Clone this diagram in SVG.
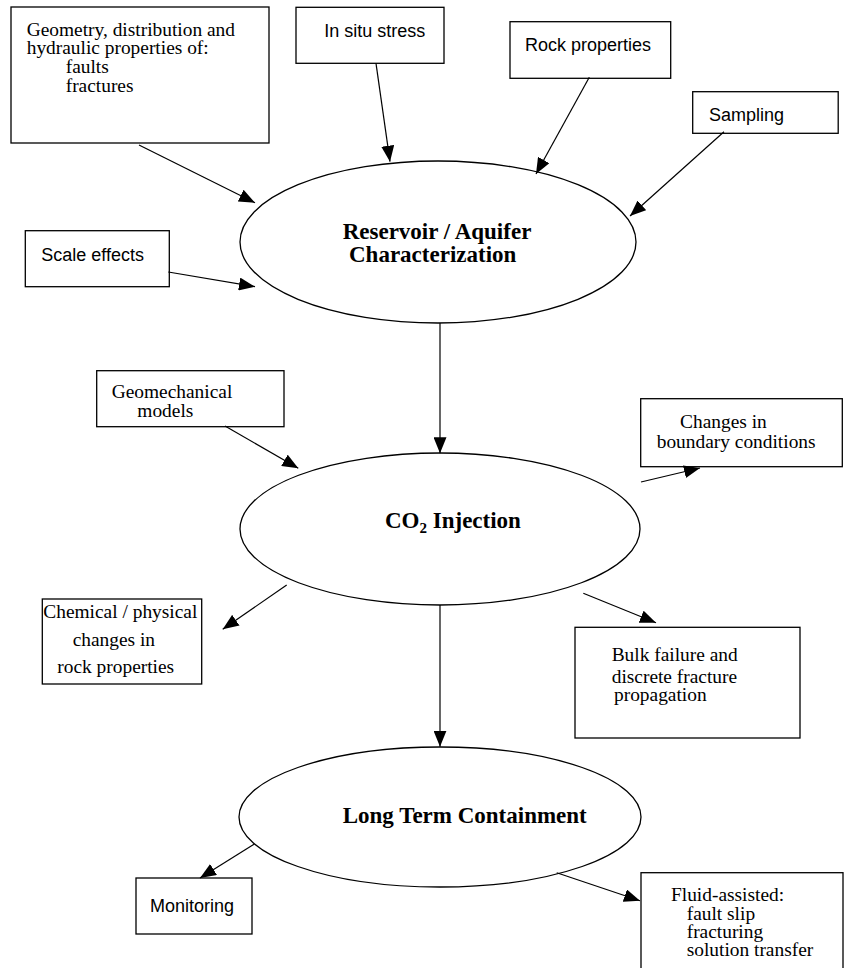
<svg xmlns="http://www.w3.org/2000/svg" width="845" height="968" viewBox="0 0 845 968">
<style>
.box{fill:#fff;stroke:#000;stroke-width:1.3}
.ell{fill:#fff;stroke:#000;stroke-width:1.3}
.sans{font-family:"Liberation Sans",Arial,sans-serif;font-size:18px;fill:#000}
.serif{font-family:"Liberation Serif","Times New Roman",serif;font-size:19.4px;fill:#000}
.title{font-family:"Liberation Serif","Times New Roman",serif;font-size:23px;font-weight:bold;fill:#000}
.conn line{stroke:#000;stroke-width:1.2;marker-end:url(#ah)}
</style>
<defs>
<marker id="ah" markerUnits="userSpaceOnUse" markerWidth="16" markerHeight="13" refX="16" refY="6.5" orient="auto">
<path d="M0,0 L16,6.5 L0,13 z" fill="#000"/>
</marker>
</defs>
<rect width="845" height="968" fill="#fff"/>

<g id="geometry">
<rect class="box" x="11" y="7" width="258" height="136"/>
<text class="serif"><tspan x="26.7" y="35.5">Geometry, distribution and</tspan><tspan x="26.7" y="54">hydraulic properties of:</tspan><tspan x="65.7" y="72.7">faults</tspan><tspan x="65.7" y="91.5">fractures</tspan></text>
</g>
<g id="insitu">
<rect class="box" x="296" y="7.3" width="148" height="56"/>
<text class="sans" x="324.3" y="37.3">In situ stress</text>
</g>
<g id="rockprops">
<rect class="box" x="510" y="21.7" width="160.7" height="56.6"/>
<text class="sans" x="525" y="50.7">Rock properties</text>
</g>
<g id="sampling">
<rect class="box" x="692.7" y="91.7" width="145.5" height="41.6"/>
<text class="sans" x="709" y="121">Sampling</text>
</g>
<g id="scale">
<rect class="box" x="25.3" y="230.7" width="144" height="56"/>
<text class="sans" x="41.3" y="260.7">Scale effects</text>
</g>
<g id="reservoir">
<ellipse class="ell" cx="438" cy="242" rx="198" ry="81"/>
<text class="title"><tspan x="342.7" y="239.3">Reservoir / Aquifer</tspan><tspan x="349" y="261.7">Characterization</tspan></text>
</g>
<g id="geomech">
<rect class="box" x="96.7" y="370.7" width="187.3" height="56"/>
<text class="serif"><tspan x="111.7" y="398.3">Geomechanical</tspan><tspan x="137.3" y="417.3">models</tspan></text>
</g>
<g id="boundary">
<rect class="box" x="640.7" y="398.7" width="201.6" height="68"/>
<text class="serif"><tspan x="680" y="427.7">Changes in</tspan><tspan x="656.7" y="448.3">boundary conditions</tspan></text>
</g>
<g id="injection">
<ellipse class="ell" cx="440" cy="529" rx="200" ry="76"/>
<text class="title" x="385" y="528">CO<tspan font-size="15" dy="4.5">2</tspan><tspan dy="-4.5"> Injection</tspan></text>
</g>
<g id="chemical">
<rect class="box" x="42.3" y="599" width="159.4" height="85"/>
<text class="serif"><tspan x="43.3" y="618.3">Chemical / physical</tspan><tspan x="72.7" y="646">changes in</tspan><tspan x="57.3" y="673.3">rock properties</tspan></text>
</g>
<g id="bulk">
<rect class="box" x="575" y="627.3" width="225" height="110.7"/>
<text class="serif"><tspan x="611.7" y="660.7">Bulk failure and</tspan><tspan x="611.7" y="683.3">discrete fracture</tspan><tspan x="614" y="700.5">propagation</tspan></text>
</g>
<g id="containment">
<ellipse class="ell" cx="440" cy="817" rx="201" ry="70"/>
<text class="title" x="342.7" y="823">Long Term Containment</text>
</g>
<g id="monitoring">
<rect class="box" x="136" y="878" width="116" height="56"/>
<text class="sans" x="150" y="912">Monitoring</text>
</g>
<g id="fluid">
<rect class="box" x="641" y="872.7" width="202" height="110"/>
<text class="serif"><tspan x="671" y="900.7">Fluid-assisted:</tspan><tspan x="686.7" y="920">fault slip</tspan><tspan x="686.7" y="937.5">fracturing</tspan><tspan x="686.7" y="956">solution transfer</tspan></text>
</g>

<g id="connectors" class="conn">
<line x1="139" y1="145" x2="255" y2="202.7"/>
<line x1="376" y1="63.3" x2="390" y2="161.7"/>
<line x1="589.3" y1="77.3" x2="536" y2="174"/>
<line x1="724" y1="131.7" x2="630" y2="216"/>
<line x1="168.3" y1="272" x2="255" y2="286.7"/>
<line x1="440" y1="323" x2="440" y2="453.3"/>
<line x1="225" y1="426" x2="298.3" y2="468.3"/>
<line x1="641" y1="482" x2="700" y2="468"/>
<line x1="286.7" y1="585" x2="222.7" y2="629.3"/>
<line x1="583.3" y1="593.3" x2="656" y2="622.7"/>
<line x1="440" y1="605" x2="440" y2="746.7"/>
<line x1="254" y1="844.3" x2="200" y2="878"/>
<line x1="556.7" y1="872.7" x2="640" y2="900.7"/>
</g>
</svg>
